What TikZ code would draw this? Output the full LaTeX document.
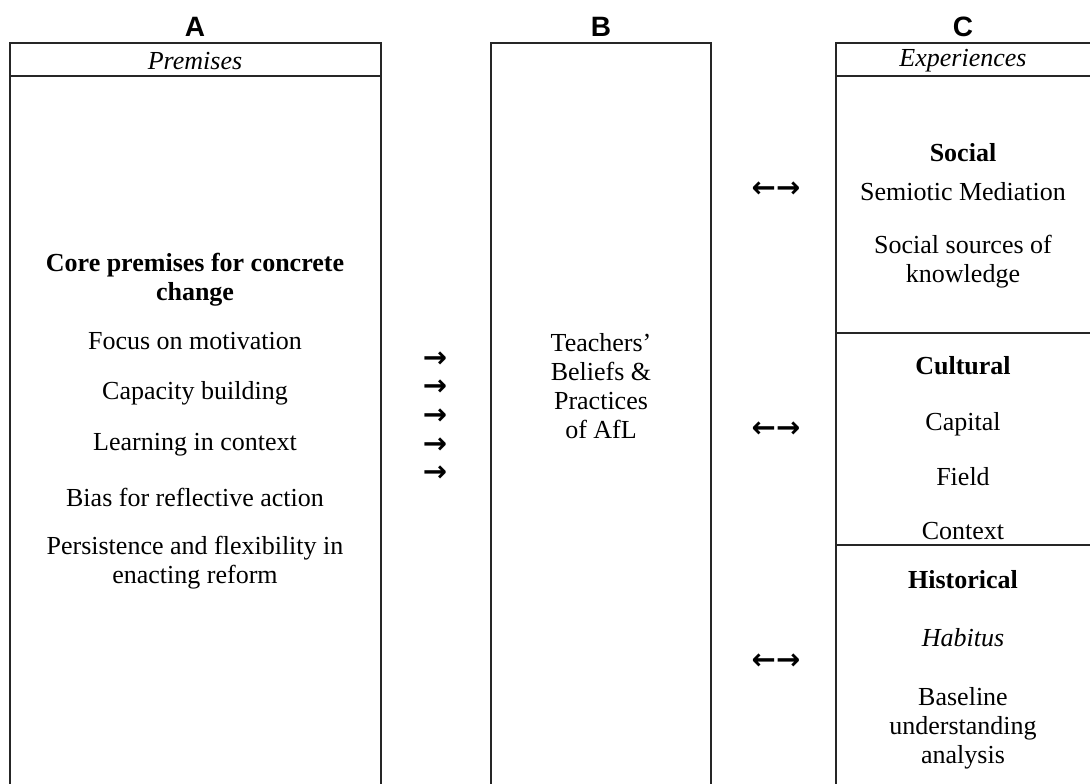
\documentclass[tikz,border=0pt]{standalone}
\usepackage{fontspec}
\setmainfont{Liberation Serif}
\newfontfamily\headfont{Liberation Sans}
\newfontfamily\symfont{DejaVu Sans}
\begin{document}
\begin{tikzpicture}[x=1pt,y=-1pt,
  box/.style={draw=black!85,line width=1.3pt},
  txt/.style={font=\fontsize{26}{29}\selectfont, align=center, inner sep=0pt},
  hd/.style={font=\headfont\bfseries\fontsize{28}{30}\selectfont, inner sep=0pt},
  arr/.style={font=\symfont\bfseries\fontsize{29}{30}\selectfont, inner sep=0pt}]
\useasboundingbox (0,0) rectangle (1090,784);
\fill[white] (0,0) rectangle (1090,784);
% boxes
\draw[box] (10,795) |- (381,43) -- (381,795);
\draw[box] (10,76) -- (381,76);
\draw[box] (491,795) |- (711,43) -- (711,795);
\draw[box] (836,795) |- (1100,43);
\draw[box] (836,76) -- (1100,76);
\draw[box] (836,333) -- (1100,333);
\draw[box] (836,545) -- (1100,545);
% headings
\node[hd] (hA) at (195,27) {A};
\node[hd] (hB) at (601,27) {B};
\node[hd] (hC) at (963,27) {C};
\node[txt] (prem) at (195,61) {\itshape Premises};
\node[txt] (exper) at (963,61) {\itshape Experiences};
% column A
\node[txt] (core) at (195,280) {\bfseries Core premises for concrete\\\bfseries change};
\node[txt] (a1) at (195,341) {Focus on motivation};
\node[txt] (a2) at (195,393) {Capacity building};
\node[txt] (a3) at (195,445) {Learning in context};
\node[txt] (a4) at (195,497) {Bias for reflective action};
\node[txt] (a5) at (195,563) {Persistence and flexibility in\\enacting reform};
% arrows A -> B
\node[arr] (r1) at (435,360) {→};
\node[arr] (r2) at (435,388) {→};
\node[arr] (r3) at (435,417) {→};
\node[arr] (r4) at (435,446) {→};
\node[arr] (r5) at (435,474) {→};
% column B
\node[txt] (teach) at (601,386) {Teachers’\\Beliefs \&\\Practices\\of AfL};
% double arrows B <-> C
\node[arr] (d1) at (776,190) {←→};
\node[arr] (d2) at (776,430) {←→};
\node[arr] (d3) at (776,662) {←→};
% column C
\node[txt] (social) at (963,153) {\bfseries Social};
\node[txt] (semi) at (963,192) {Semiotic Mediation};
\node[txt] (ssk) at (963,262) {Social sources of\\knowledge};
\node[txt] (cult) at (963,366) {\bfseries Cultural};
\node[txt] (cap) at (963,424) {Capital};
\node[txt] (field) at (963,477) {Field};
\node[txt] (ctx) at (963,531) {Context};
\node[txt] (hist) at (963,580) {\bfseries Historical};
\node[txt] (hab) at (963,638) {\itshape Habitus};
\node[txt] (base) at (963,728) {Baseline\\understanding\\analysis};
\end{tikzpicture}
\end{document}
